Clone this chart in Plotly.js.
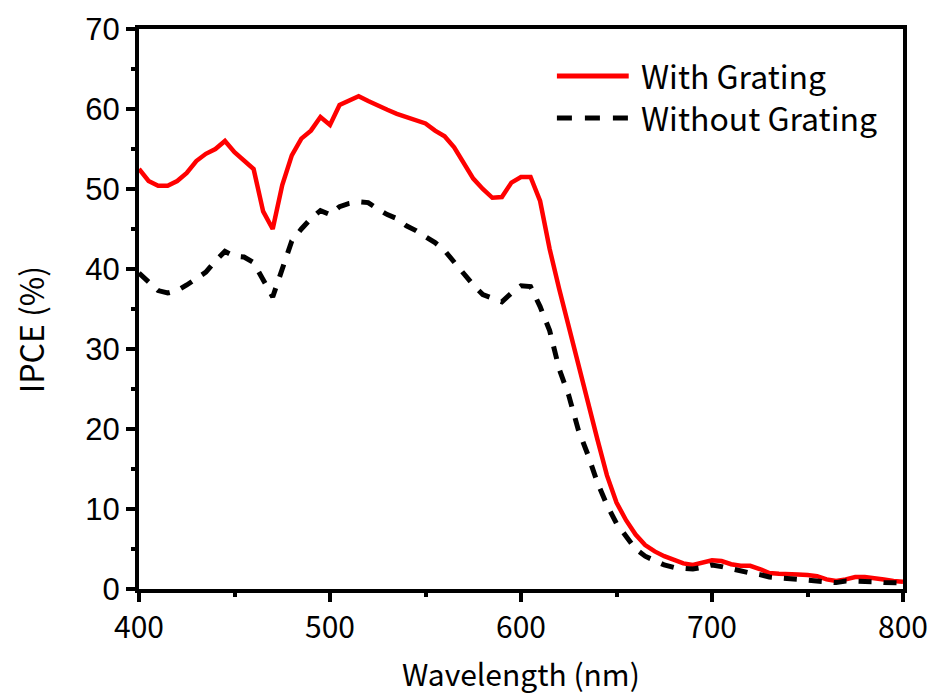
<!DOCTYPE html>
<html>
<head>
<meta charset="utf-8">
<script src="https://cdn.plot.ly/plotly-3.0.1.min.js"></script>
<style>html,body{margin:0;padding:0;background:#fff;}#chart{width:934px;height:697px;}</style>
</head>
<body>
<div id="chart"></div>
<script>
const wavelength = [400,405,410,415,420,425,430,435,440,445,450,455,460,465,470,475,480,485,490,495,500,505,510,515,520,525,530,535,540,545,550,555,560,565,570,575,580,585,590,595,600,605,610,615,620,625,630,635,640,645,650,655,660,665,670,675,680,685,690,695,700,705,710,715,720,725,730,735,740,745,750,755,760,765,770,775,780,785,790,795,800];
const withGrating = [52.5,51.0,50.4,50.4,51.0,52.0,53.5,54.4,55.0,56.0,54.6,53.5,52.5,47.2,45.0,50.5,54.2,56.3,57.3,59.0,58.0,60.5,61.0,61.6,61.0,60.4,59.9,59.4,59.0,58.5,58.2,57.3,56.6,55.2,53.2,51.3,50.0,48.9,49.0,50.8,51.5,51.5,48.5,42.5,37.5,32.8,27.8,23.0,18.7,14.2,10.8,8.6,6.8,5.5,4.7,4.1,3.6,3.2,3.0,3.3,3.6,3.5,3.1,2.9,2.9,2.5,2.0,1.9,1.8,1.8,1.75,1.6,1.2,1.0,1.2,1.5,1.5,1.4,1.2,1.0,0.9];
const withoutGrating = [39.5,38.5,37.3,37.0,37.3,38.0,38.8,39.6,41.0,42.2,41.6,41.5,40.8,38.5,36.5,40.0,43.5,45.0,46.3,47.3,46.8,47.8,48.2,48.4,48.3,47.5,46.8,46.3,45.4,44.8,44.0,43.3,42.3,40.8,39.3,38.0,36.8,36.4,35.9,37.0,37.9,37.8,35.3,32.3,27.5,24.2,19.9,16.8,13.3,10.5,8.2,6.6,5.0,4.1,3.5,3.0,2.7,2.6,2.5,2.7,3.0,2.8,2.5,2.2,2.0,1.8,1.5,1.4,1.3,1.2,1.1,1.0,0.8,0.8,1.0,1.0,1.0,0.9,0.8,0.75,0.75];
const seriesNames = ["With Grating","Without Grating"];
const xTitle = 'Wavelength (nm)';
const yTitle = 'IPCE (%)';

const jp = '"Noto Sans CJK JP","Noto Sans",sans-serif';
const arial = '"Liberation Sans",Arial,sans-serif';

const traces = [
  {x: wavelength, y: withGrating, name: seriesNames[0], mode: 'lines', line: {color: '#ff0000', width: 4.5}, showlegend: false},
  {x: wavelength, y: withoutGrating, name: seriesNames[1], mode: 'lines', line: {color: '#000000', width: 5, dash: '13px,12px'}, showlegend: false}
];

const layout = {
  width: 934, height: 697,
  margin: {l: 139, r: 31, t: 29, b: 108},
  paper_bgcolor: '#fff', plot_bgcolor: '#fff',
  xaxis: {
    range: [400, 800], dtick: 100, tick0: 400,
    showgrid: false, zeroline: false,
    showline: true, mirror: true, linecolor: '#000', linewidth: 4,
    ticks: 'outside', ticklen: 9, tickwidth: 4, tickcolor: '#000',
    minor: {dtick: 50, ticks: 'outside', ticklen: 4, tickwidth: 4, tickcolor: '#000', showgrid: false},
    tickfont: {family: jp, size: 30, color: '#000'}
  },
  yaxis: {
    range: [0, 70], dtick: 10,
    showgrid: false, zeroline: false,
    showline: true, mirror: true, linecolor: '#000', linewidth: 4,
    ticks: 'outside', ticklen: 9, tickwidth: 4, tickcolor: '#000',
    minor: {dtick: 5, ticks: 'outside', ticklen: 4, tickwidth: 4, tickcolor: '#000', showgrid: false},
    tickfont: {family: arial, size: 31, color: '#000'}
  },
  shapes: [
    {type: 'line', xref: 'paper', yref: 'paper', x0: 0.547, x1: 0.641, y0: 0.916, y1: 0.916, line: {color: '#ff0000', width: 5}},
    {type: 'line', xref: 'paper', yref: 'paper', x0: 0.547, x1: 0.641, y0: 0.841, y1: 0.841, line: {color: '#000', width: 5, dash: '15px,13px'}}
  ],
  annotations: [
    {xref: 'paper', yref: 'paper', x: 0.655, y: 0.918, xanchor: 'left', yanchor: 'middle', showarrow: false, text: seriesNames[0], font: {family: jp, size: 32, color: '#000'}},
    {xref: 'paper', yref: 'paper', x: 0.655, y: 0.843, xanchor: 'left', yanchor: 'middle', showarrow: false, text: seriesNames[1], font: {family: jp, size: 32, color: '#000'}},
    {xref: 'paper', yref: 'paper', x: 0.5, y: -0.150, xanchor: 'center', yanchor: 'middle', showarrow: false, text: xTitle, font: {family: jp, size: 30, color: '#000'}},
    {xref: 'paper', yref: 'paper', x: -0.1427, y: 0.464, xanchor: 'center', yanchor: 'middle', textangle: -90, showarrow: false, text: yTitle, font: {family: jp, size: 32, color: '#000'}}
  ]
};

Plotly.newPlot('chart', traces, layout, {displayModeBar: false, staticPlot: true});
</script>
</body>
</html>
